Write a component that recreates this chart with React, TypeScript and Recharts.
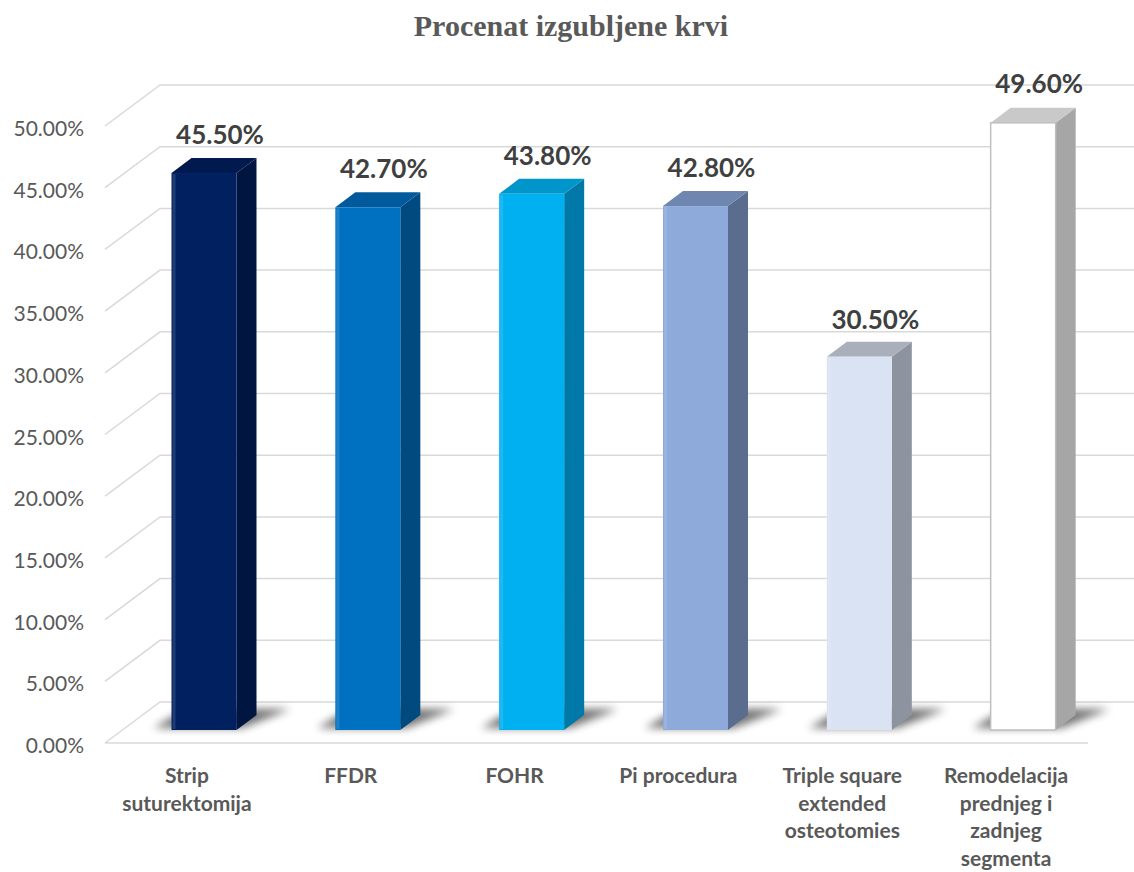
import React from 'react';
import { BarChart, Bar, XAxis, YAxis, CartesianGrid, Cell, LabelList } from 'recharts';

const categories = [
  'Strip suturektomija',
  'FFDR',
  'FOHR',
  'Pi procedura',
  'Triple square extended osteotomies',
  'Remodelacija prednjeg i zadnjeg segmenta',
];
const categoryLines = [
  ['Strip', 'suturektomija'],
  ['FFDR'],
  ['FOHR'],
  ['Pi procedura'],
  ['Triple square', 'extended', 'osteotomies'],
  ['Remodelacija', 'prednjeg i', 'zadnjeg', 'segmenta'],
];
const bloodLoss = [45.5, 42.7, 43.8, 42.8, 30.5, 49.6];
const yTicks = [0, 5, 10, 15, 20, 25, 30, 35, 40, 45, 50];

const FRONT = ['#002060', '#0070c0', '#00b0f0', '#8eaadb', '#dae3f3', '#ffffff'];
const SIDE = ['#001640', '#004a80', '#0079a8', '#5b6d8f', '#8e949f', '#a6a6a6'];
const TOP = ['#001a50', '#005a9c', '#0096cc', '#6f86b0', '#a9b0bc', '#c9c9c9'];

// oblique projection: back wall -> floor front
const DEPTH_X = 55;
const DEPTH_Y = 41;
// bar front face offset from back wall, bar depth
const BAR_FX = -37.5;
const BAR_FY = 28;
const BAR_DX = 20;
const BAR_DY = 15;

const data = categories.map((name, i) => ({ name, value: bloodLoss[i] }));

const GridLine = (props: any) => {
  const { x1, y1, x2 } = props;
  const pts = `${x1 - DEPTH_X},${y1 + DEPTH_Y} ${x1},${y1} ${x2},${y1}`;
  return (
    <g>
      <polyline points={pts} fill="none" stroke="#d9d9d9" strokeWidth={1.5} />
      {y1 > 700 && (
        <line x1={x1 - DEPTH_X} y1={y1 + DEPTH_Y} x2={x2 - DEPTH_X} y2={y1 + DEPTH_Y} stroke="#d9d9d9" strokeWidth={1.5} />
      )}
    </g>
  );
};

const Bar3D = (props: any) => {
  const { x, y, width, height, index } = props;
  const h = height * 0.992;
  const fx = x + BAR_FX;
  const fb = y + height + BAR_FY;
  const ft = fb - h;
  const w = width;
  const border = index === 5 ? '#bfbfbf' : 'none';
  const shadow = `${fx - 18},${fb - 2} ${fx + w + 6},${fb - 2} ${fx + w + BAR_DX + 34},${fb - BAR_DY - 6} ${fx + BAR_DX - 6},${fb - BAR_DY - 6}`;
  return (
    <g>
      <polygon points={shadow} fill="#000" opacity={0.55} filter="url(#floorShadow)" />
      <polygon
        points={`${fx + w},${ft} ${fx + w + BAR_DX},${ft - BAR_DY} ${fx + w + BAR_DX},${fb - BAR_DY} ${fx + w},${fb}`}
        fill={SIDE[index]}
      />
      <polygon
        points={`${fx},${ft} ${fx + BAR_DX},${ft - BAR_DY} ${fx + w + BAR_DX},${ft - BAR_DY} ${fx + w},${ft}`}
        fill={TOP[index]}
      />
      <rect x={fx} y={ft} width={w} height={h} fill={FRONT[index]} stroke={border} strokeWidth={1.5} />
      <rect x={fx + 1} y={ft + 1} width={3} height={h - 2} fill="#ffffff" opacity={0.12} />
    </g>
  );
};

const YTick = (props: any) => {
  const { y, payload } = props;
  return (
    <text x={84} y={y + DEPTH_Y + 10} textAnchor="end" fontFamily="Lato" fontSize={21} fill="#595959">
      {`${Number(payload.value).toFixed(2)}%`}
    </text>
  );
};

const XTick = (props: any) => {
  const { x, payload, index } = props;
  const lines = categoryLines[index] ?? [payload.value];
  const cx = x - DEPTH_X;
  return (
    <text x={cx} y={783} textAnchor="middle" fontFamily="Lato" fontWeight="bold" fontSize={21} fill="#595959">
      {lines.map((l: string, i: number) => (
        <tspan key={i} x={cx} dy={i === 0 ? 0 : 27.5}>
          {l}
        </tspan>
      ))}
    </text>
  );
};

const ValueLabel = (props: any) => {
  const { x, y, width, value } = props;
  return (
    <text
      x={x + width / 2 + BAR_FX + BAR_DX - 4}
      y={y + 3}
      textAnchor="middle"
      fontFamily="Lato"
      fontWeight="bold"
      fontSize={26}
      fill="#404040"
    >
      {`${Number(value).toFixed(2)}%`}
    </text>
  );
};

export default function App() {
  return (
    <div style={{ position: 'absolute', left: 0, top: 0, width: 1134, height: 872, overflow: 'hidden', background: '#fff' }}>
      <div
        style={{
          position: 'absolute',
          top: 9,
          left: 0,
          width: 1142,
          textAlign: 'center',
          fontFamily: '"Liberation Serif", serif',
          fontWeight: 'bold',
          fontSize: 30,
          color: '#595959',
        }}
      >
        Procenat izgubljene krvi
      </div>
      <BarChart
        width={1160}
        height={872}
        data={data}
        margin={{ top: 85, right: 17, bottom: 0, left: 0 }}
        barSize={65}
      >
        <defs>
          <filter id="floorShadow" x="-50%" y="-100%" width="200%" height="300%">
            <feGaussianBlur stdDeviation="4" />
          </filter>
        </defs>
        <CartesianGrid vertical={false} horizontal={(p: any) => <GridLine key={p.key} {...p} />} />
        <XAxis dataKey="name" height={170} axisLine={false} tickLine={false} interval={0} tick={<XTick />} />
        <YAxis
          width={160}
          domain={[0, 50]}
          ticks={yTicks}
          axisLine={false}
          tickLine={false}
          tick={<YTick />}
        />
        <Bar dataKey="value" isAnimationActive={false} shape={<Bar3D />}>
          {data.map((d, i) => (
            <Cell key={d.name} fill={FRONT[i]} />
          ))}
          <LabelList dataKey="value" content={<ValueLabel />} />
        </Bar>
      </BarChart>
    </div>
  );
}
